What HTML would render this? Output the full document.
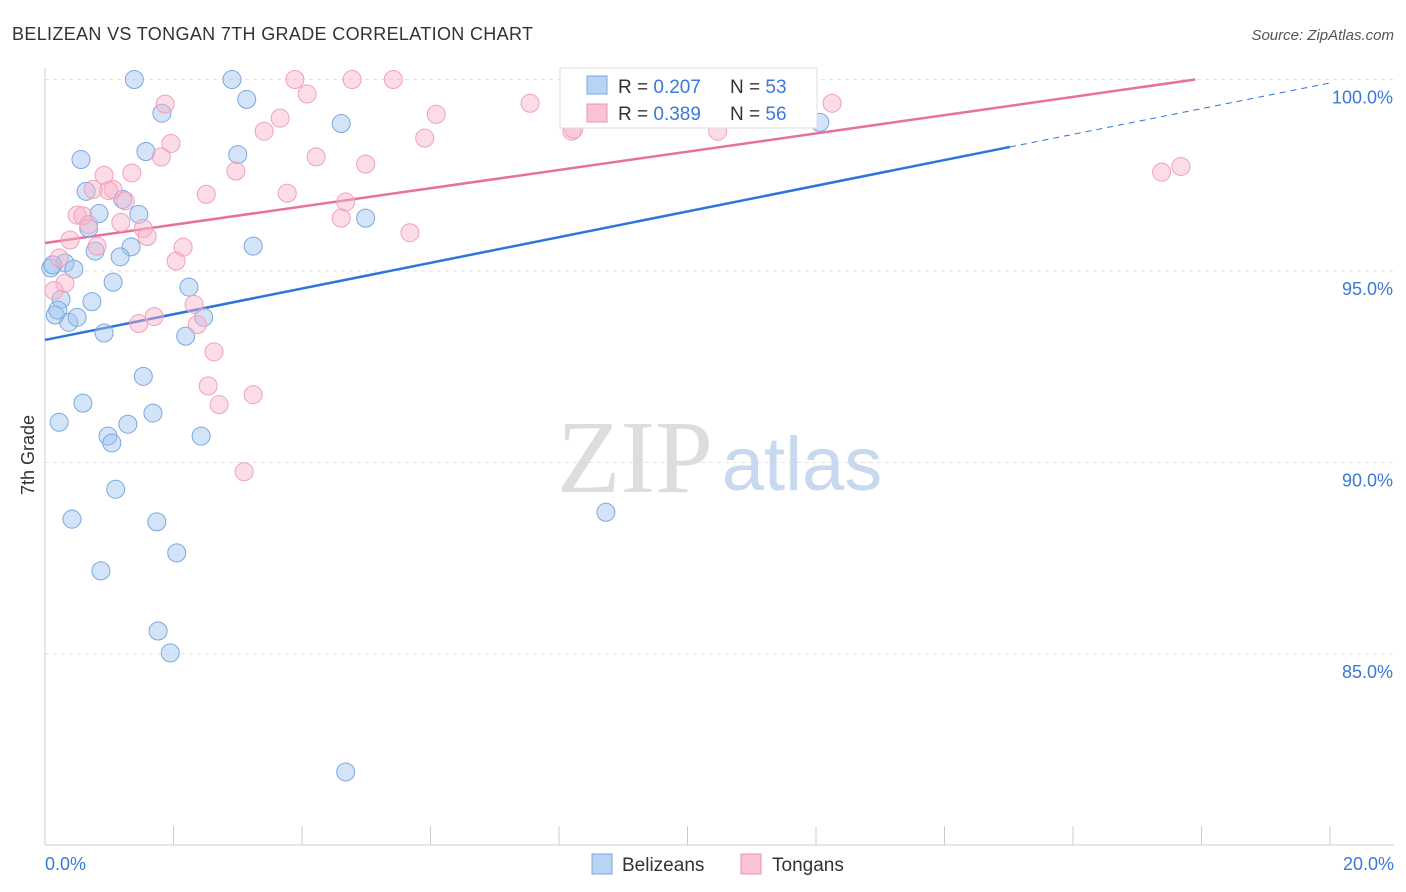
<!DOCTYPE html>
<html><head><meta charset="utf-8"><style>
body{margin:0;background:#fff;font-family:"Liberation Sans",sans-serif;}
svg{display:block}
</style></head><body>
<svg id="chart" width="1406" height="892">
<text x="12" y="40" font-size="18" fill="#333" textLength="521">BELIZEAN VS TONGAN 7TH GRADE CORRELATION CHART</text>
<text x="1394" y="40" font-size="15" fill="#555" font-style="italic" text-anchor="end">Source: ZipAtlas.com</text>
<g id="grid"></g>
<g>
<text x="635" y="492" font-size="104" font-family="Liberation Serif,serif" fill="#ddd" text-anchor="middle">ZIP</text>
<text x="802" y="490" font-size="76" fill="#c8d8ee" text-anchor="middle">atlas</text>
</g>
<g id="lines"></g>
<g id="points"></g>
<text x="34" y="455" font-size="18" fill="#333" transform="rotate(-90 34 455)" text-anchor="middle">7th Grade</text>
<text x="45" y="870" font-size="18" fill="#3b78d8">0.0%</text>
<text x="1394" y="870" font-size="18" fill="#3b78d8" text-anchor="end">20.0%</text>
<g>
<rect x="560" y="68" width="257" height="60" fill="#fff" stroke="#ddd"/>
<rect x="587" y="76" width="20" height="18" fill="#b8d3f4" stroke="#7aa8e0"/>
<rect x="587" y="104" width="20" height="18" fill="#f9c3d4" stroke="#f090b0"/>
<text x="618" y="93" font-size="19" fill="#333">R = <tspan fill="#3b78d8">0.207</tspan></text>
<text x="730" y="93" font-size="19" fill="#333">N = <tspan fill="#3b78d8">53</tspan></text>
<text x="618" y="120" font-size="19" fill="#333">R = <tspan fill="#3b78d8">0.389</tspan></text>
<text x="730" y="120" font-size="19" fill="#333">N = <tspan fill="#3b78d8">56</tspan></text>
</g>
<g>
<rect x="592" y="854" width="20" height="20" fill="#b8d3f4" stroke="#7aa8e0"/>
<text x="622" y="871" font-size="19" fill="#333">Belizeans</text>
<rect x="741" y="854" width="20" height="20" fill="#f9c3d4" stroke="#f090b0"/>
<text x="772" y="871" font-size="19" fill="#333">Tongans</text>
</g>
</svg>
<script>
const yTicks=[100,95,90,85];
const yTickLabels=["100.0%","95.0%","90.0%","85.0%"];
const xTicks=[0,2,4,6,8,10,12,14,16,18,20];
const belizeX=[1.39,2.91,1.82,3.14,4.61,1.57,3.00,0.56,0.64,0.84,1.21,1.46,4.99,0.68,1.34,0.78,1.17,3.24,0.31,0.45,0.09,0.12,1.06,2.24,0.25,0.73,0.16,0.37,0.50,0.92,2.19,2.47,1.53,0.59,1.68,0.22,1.29,0.98,1.04,2.43,1.10,0.42,1.74,2.05,0.87,1.76,1.95,4.68,8.73,12.06,9.39,10.04,0.20];
const belizeY=[100.0,100.0,99.12,99.48,98.85,98.12,98.04,97.91,97.08,96.50,96.87,96.48,96.38,96.12,95.63,95.52,95.37,95.65,95.21,95.05,95.08,95.16,94.71,94.58,94.26,94.20,93.85,93.66,93.79,93.38,93.30,93.79,92.25,91.55,91.29,91.05,91.00,90.69,90.51,90.69,89.30,88.52,88.45,87.64,87.17,85.60,85.03,81.92,88.70,98.88,100.0,100.0,93.98];
const tongaX=[1.87,1.96,1.81,1.35,0.92,0.75,1.06,0.99,1.25,0.50,0.59,0.68,1.18,1.53,1.59,0.39,0.81,2.15,2.04,0.22,0.31,0.14,2.51,2.97,3.41,3.66,3.77,3.89,4.08,4.22,4.78,5.42,4.68,4.61,4.99,5.68,5.91,6.09,7.55,8.20,8.23,10.47,12.25,17.38,17.68,2.32,2.37,1.46,1.70,2.63,2.54,2.71,3.24,3.10,8.68];
const tongaY=[99.36,98.33,97.98,97.56,97.50,97.13,97.13,97.10,96.83,96.46,96.44,96.21,96.27,96.11,95.90,95.81,95.65,95.62,95.26,95.34,94.68,94.49,97.00,97.61,98.65,98.99,97.03,100.0,99.62,97.98,100.0,100.0,96.80,96.38,97.79,96.00,98.47,99.09,99.38,98.65,98.70,98.65,99.38,97.58,97.73,94.13,93.60,93.63,93.81,92.89,92.00,91.51,91.77,89.76,98.99];
const blueFit=[93.20,99.91], pinkFit=[95.73,100.5];
const NS="http://www.w3.org/2000/svg";
const X0=45,X1=1330,YT=79.5,PX=38.3;
const sx=v=>X0+(v/20)*(X1-X0);
const sy=v=>YT+(100-v)*PX;
function mk(tag,attrs,parent){const e=document.createElementNS(NS,tag);for(const k in attrs)e.setAttribute(k,attrs[k]);parent.appendChild(e);return e;}
const grid=document.getElementById('grid');
yTicks.forEach((t,i)=>{
 const l=mk('line',{x1:X0,x2:1394,y1:sy(t),y2:sy(t),stroke:'#e2e2e2','stroke-dasharray':'4,4'},grid);
 
 
 const tx=mk('text',{x:1393,y:sy(t)+24,'font-size':18,fill:'#3b78d8','text-anchor':'end'},grid);
 tx.textContent=yTickLabels[i];
 
 
});
const ax=mk('line',{x1:X0,x2:X0,y1:68,y2:845,stroke:'#ccc'},grid);


const bx=mk('line',{x1:X0,x2:1394,y1:845,y2:845,stroke:'#ccc'},grid);


xTicks.forEach(t=>{
 const l=mk('line',{x1:sx(t),x2:sx(t),y1:826,y2:845,stroke:'#ccc'},grid);
 
 
});
const lines=document.getElementById('lines');
const bxEnd=15.02;
const bAt=x=>blueFit[0]+(blueFit[1]-blueFit[0])*x/20;
let l1=mk('line',{x1:sx(0),y1:sy(bAt(0)),x2:sx(bxEnd),y2:sy(bAt(bxEnd)),stroke:'#2f74d8','stroke-width':2.5},lines);


let l2=mk('line',{x1:sx(bxEnd),y1:sy(bAt(bxEnd)),x2:sx(20),y2:sy(bAt(20)),stroke:'#2f74d8','stroke-width':1,'stroke-dasharray':'6,5'},lines);


const pSlope=(pinkFit[1]-pinkFit[0])/20;
const pEnd=Math.min(20,(100-pinkFit[0])/pSlope);
let l3=mk('line',{x1:sx(0),y1:sy(pinkFit[0]),x2:sx(pEnd),y2:sy(pinkFit[0]+pSlope*pEnd),stroke:'#e8709a','stroke-width':2.5},lines);


const pts=document.getElementById('points');
belizeX.forEach((x,i)=>{
 const c=mk('circle',{cx:sx(x),cy:sy(belizeY[i]),r:9,fill:'rgba(160,196,240,0.45)',stroke:'#7aa8e0','stroke-width':1},pts);
 
 
});
tongaX.forEach((x,i)=>{
 const c=mk('circle',{cx:sx(x),cy:sy(tongaY[i]),r:9,fill:'rgba(248,180,202,0.45)',stroke:'#f0a0bc','stroke-width':1},pts);
 
 
});
</script>
</body></html>
